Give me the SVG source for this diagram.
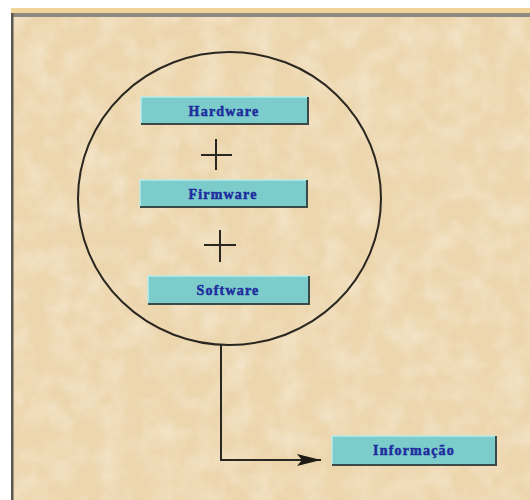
<svg xmlns="http://www.w3.org/2000/svg" width="530" height="500" viewBox="0 0 530 500">
<defs>
<style>
.box{fill:#7ccccc;stroke:none}
.hi{stroke:#b8ecea;stroke-width:1.5;fill:none}
.sh{stroke:#3a4a48;stroke-width:2;fill:none}
.lbl{font-family:"Liberation Serif","DejaVu Serif",serif;font-weight:bold;font-size:14px;letter-spacing:1.2px;fill:#1e2c9c;stroke:#1e2c9c;stroke-width:0.5;text-anchor:middle}
.plus{stroke:#2a2620;stroke-width:2;fill:none}
.conn{stroke:#2a2620;stroke-width:2;fill:none}
</style>
<filter id="paper" x="0" y="0" width="100%" height="100%">
<feTurbulence type="fractalNoise" baseFrequency="0.04" numOctaves="3" seed="4" result="n"/>
<feColorMatrix in="n" type="matrix" values="0 0 0 0 0.96  0 0 0 0 0.88  0 0 0 0 0.74  0 0 0 -1.2 0.75" result="c"/>
<feComposite in="c" in2="SourceGraphic" operator="in"/>
</filter>
<marker id="arr" markerWidth="26" markerHeight="14" refX="24" refY="7" orient="auto" markerUnits="userSpaceOnUse">
<path d="M0,1 L24,7 L0,13 L5,7 Z" fill="#1e1a14"/>
</marker>
</defs>
<rect x="0" y="0" width="530" height="500" fill="#ffffff"/>
<rect x="11" y="8" width="519" height="492" fill="#ecd6ae"/>
<rect x="11" y="8" width="519" height="492" fill="#f6e6c6" filter="url(#paper)" opacity="0.8"/>
<rect x="11" y="8" width="519" height="5" fill="#f0d49a"/>
<rect x="11" y="13" width="519" height="4" fill="#8e8a82"/>
<rect x="11" y="13" width="2.5" height="487" fill="#5a5650"/>

<ellipse cx="229.5" cy="198.5" rx="151.5" ry="146.5" fill="none" stroke="#2a2620" stroke-width="2"/>

<g id="connectors">
<path class="conn" d="M221,345 V460 H321" marker-end="url(#arr)"/>
</g>

<g id="plus1"><path class="plus" d="M201,155 H232 M216,139 V170"/></g>
<g id="plus2"><path class="plus" d="M204,245 H236 M220,230 V262"/></g>

<g id="hardware">
<rect class="box" x="141" y="97" width="167" height="27"/>
<path class="hi" d="M141,124 V97 H308"/>
<path class="sh" d="M141,124 H308 V97"/>
<text class="lbl" x="224" y="115.5">Hardware</text>
</g>
<g id="firmware">
<rect class="box" x="140" y="180" width="167" height="27"/>
<path class="hi" d="M140,207 V180 H307"/>
<path class="sh" d="M140,207 H307 V180"/>
<text class="lbl" x="223" y="198.5">Firmware</text>
</g>
<g id="software">
<rect class="box" x="148" y="276" width="161" height="28"/>
<path class="hi" d="M148,304 V276 H309"/>
<path class="sh" d="M148,304 H309 V276"/>
<text class="lbl" x="228" y="295">Software</text>
</g>
<g id="informacao">
<rect class="box" x="332" y="436" width="164" height="29"/>
<path class="hi" d="M332,465 V436 H496"/>
<path class="sh" d="M332,465 H496 V436"/>
<text class="lbl" x="414" y="455">Informação</text>
</g>
</svg>
